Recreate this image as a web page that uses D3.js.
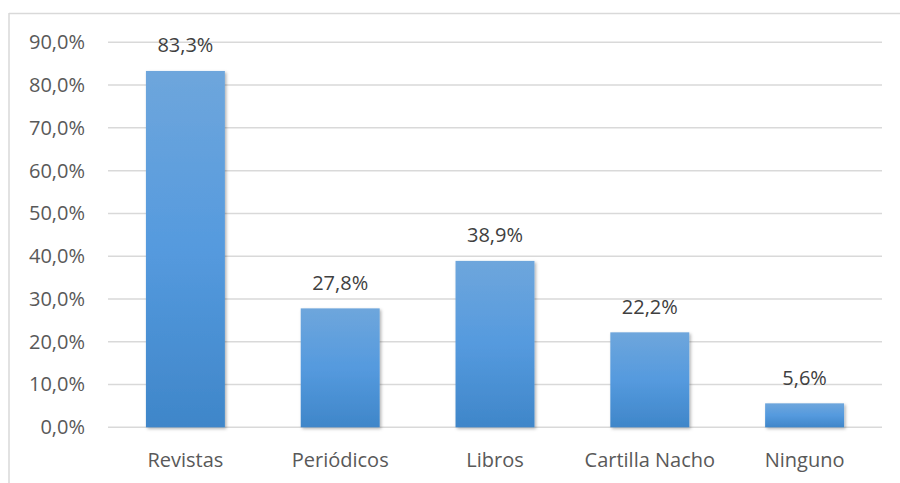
<!DOCTYPE html>
<html>
<head>
<meta charset="utf-8">
<script src="https://cdn.jsdelivr.net/npm/d3@7/dist/d3.min.js"></script>
<style>
  html, body { margin: 0; padding: 0; background: #fff; }
  svg { display: block; font-family: "Open Sans", "Noto Sans", sans-serif; }
</style>
</head>
<body>
<svg id="chart" width="900" height="483"></svg>
<script>
// Reading material share by category
const categories = ["Revistas", "Periódicos", "Libros", "Cartilla Nacho", "Ninguno"];
const values = [83.3, 27.8, 38.9, 22.2, 5.6];
const tickValues = [0, 10, 20, 30, 40, 50, 60, 70, 80, 90];

const fmt = v => d3.format(".1f")(v).replace(".", ",") + "%";

const svg = d3.select("#chart");
const W = 900, H = 483;
const FONT = "'Open Sans', 'Noto Sans', sans-serif";

// Chart frame (top and left edges)
svg.append("line").attr("x1", 9).attr("x2", W).attr("y1", 13.5).attr("y2", 13.5)
  .attr("stroke", "#d9d9d9").attr("stroke-width", 1.5);
svg.append("line").attr("x1", 9).attr("x2", 9).attr("y1", 13).attr("y2", H)
  .attr("stroke", "#d9d9d9").attr("stroke-width", 1.5);

const x = d3.scaleBand().domain(categories).range([108, 882]).paddingInner(0.49).paddingOuter(0.245);
const y = d3.scaleLinear().domain([0, 90]).range([427.3, 42.3]);

const defs = svg.append("defs");
const grad = defs.append("linearGradient").attr("id", "barGrad")
  .attr("x1", 0).attr("y1", 0).attr("x2", 0).attr("y2", 1);
grad.append("stop").attr("offset", "0%").attr("stop-color", "#6ea6dc");
grad.append("stop").attr("offset", "50%").attr("stop-color", "#559ade");
grad.append("stop").attr("offset", "100%").attr("stop-color", "#3f86c9");

const shadow = defs.append("filter").attr("id", "shadow")
  .attr("x", "-20%").attr("y", "-20%").attr("width", "140%").attr("height", "140%");
shadow.append("feDropShadow").attr("dx", 1.5).attr("dy", 1.5).attr("stdDeviation", 1.6)
  .attr("flood-color", "#000").attr("flood-opacity", 0.3);

// Gridlines
svg.append("g").selectAll("line").data(tickValues).join("line")
  .attr("x1", 108).attr("x2", 882)
  .attr("y1", d => y(d)).attr("y2", d => y(d))
  .attr("stroke", "#d9d9d9").attr("stroke-width", 1.5);

// Y axis labels
const yAxis = d3.axisLeft(y).tickValues(tickValues).tickFormat(fmt).tickSize(0).tickPadding(0);
const gy = svg.append("g").attr("transform", "translate(85,0)").call(yAxis);
gy.select(".domain").remove();
gy.selectAll("text").attr("font-size", 20).attr("fill", "#595959").attr("font-family", FONT);

// Bars
svg.append("g").selectAll("rect").data(values).join("rect")
  .attr("x", (d, i) => x(categories[i]))
  .attr("y", d => y(d))
  .attr("width", x.bandwidth())
  .attr("height", d => y(0) - y(d))
  .attr("fill", "url(#barGrad)")
  .attr("filter", "url(#shadow)");

// Value labels
svg.append("g").selectAll("text").data(values).join("text")
  .attr("x", (d, i) => x(categories[i]) + x.bandwidth() / 2)
  .attr("y", d => y(d) - 18.5)
  .attr("text-anchor", "middle")
  .attr("font-size", 20).attr("fill", "#404040").attr("font-family", FONT)
  .text(d => fmt(d));

// X axis labels
const xAxis = d3.axisBottom(x).tickSize(0).tickPadding(0);
const gx = svg.append("g").attr("transform", "translate(0,453)").call(xAxis);
gx.select(".domain").remove();
gx.selectAll("text").attr("font-size", 20).attr("fill", "#595959").attr("font-family", FONT);
</script>
</body>
</html>
